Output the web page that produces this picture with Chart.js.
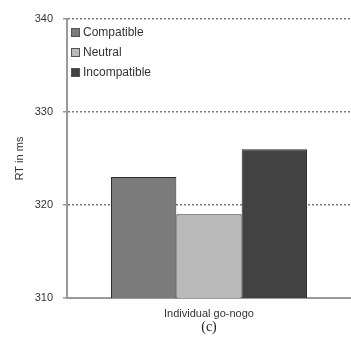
<!DOCTYPE html>
<html>
<head>
<meta charset="utf-8">
<script src="https://cdn.jsdelivr.net/npm/chart.js@4/dist/chart.umd.min.js"></script>
<style>
    body { margin: 0; background: #fff; }
    #wrap { position: relative; width: 351px; height: 341px; }
    #legend { position: absolute; left: 71px; top: 24px; font-family: 'Liberation Sans', Arial, sans-serif; font-size: 12px; color: #333; }
    #legend div { height: 20px; line-height: 16px; }
    #legend span.sw { display: inline-block; width: 7px; height: 7px; border: 1px solid #555; margin-right: 3px; vertical-align: -1px; }
</style>
</head>
<body>
<div id="wrap">
    <canvas id="chart" width="351" height="341"></canvas>
    <div id="legend"></div>
</div>
<script>
// Chart data
const categories = ['Individual go-nogo'];
const seriesNames = ['Compatible', 'Neutral', 'Incompatible'];
const compatibleRT = [323];
const neutralRT = [319];
const incompatibleRT = [326];
const yTicks = [310, 320, 330, 340];
const colors = ['#7b7b7b', '#b9b9b9', '#424242'];

document.addEventListener('DOMContentLoaded', function() {
    const values = [compatibleRT, neutralRT, incompatibleRT];

    // Legend inside the plot, top left
    const legend = document.getElementById('legend');
    seriesNames.forEach(function(name, i) {
        const row = document.createElement('div');
        row.innerHTML = '<span class="sw" style="background:' + colors[i] + '"></span>' + name;
        legend.appendChild(row);
    });

    const ctx = document.getElementById('chart').getContext('2d');
    new Chart(ctx, {
        type: 'bar',
        data: {
            labels: categories,
            datasets: seriesNames.map(function(name, i) {
                return {
                    label: name,
                    data: values[i],
                    backgroundColor: colors[i],
                    borderColor: '#2a2a2a',
                    borderWidth: 1,
                    borderSkipped: false
                };
            })
        },
        options: {
            responsive: false,
            animation: false,
            layout: { padding: { top: 19, right: 0, left: 0, bottom: 0 } },
            categoryPercentage: 0.69,
            barPercentage: 1,
            plugins: {
                legend: { display: false },
                tooltip: { enabled: false }
            },
            scales: {
                x: {
                    grid: { display: false },
                    border: { display: true, color: '#9a9a9a', width: 2 },
                    ticks: { color: '#333', font: { family: 'Liberation Sans', size: 11 }, padding: 1 },
                    title: {
                        display: true,
                        text: '(c)',
                        color: '#222',
                        font: { family: 'Liberation Serif', size: 14 },
                        padding: { top: 0, bottom: 5 }
                    },
                    afterFit: function(scale) { scale.height = 43; }
                },
                y: {
                    min: 310,
                    max: 340,
                    afterBuildTicks: function(scale) {
                        scale.ticks = yTicks.map(v => ({ value: v }));
                    },
                    grid: {
                        color: function(c) { return c.tick && c.tick.value === 310 ? 'rgba(0,0,0,0)' : '#7a7a7a'; },
                        lineWidth: 1.5,
                        tickColor: '#9a9a9a',
                        tickLength: 4,
                        tickBorderDash: []
                    },
                    border: { display: true, color: '#9a9a9a', width: 2, dash: [2, 2] },
                    ticks: { color: '#333', font: { family: 'Liberation Sans', size: 11 }, padding: 10 },
                    title: {
                        display: true,
                        text: 'RT in ms',
                        color: '#333',
                        font: { family: 'Liberation Sans', size: 11 },
                        padding: { top: 13, bottom: 0 }
                    },
                    afterFit: function(scale) { scale.width = 67; }
                }
            }
        }
    });
});
</script>
</body>
</html>
